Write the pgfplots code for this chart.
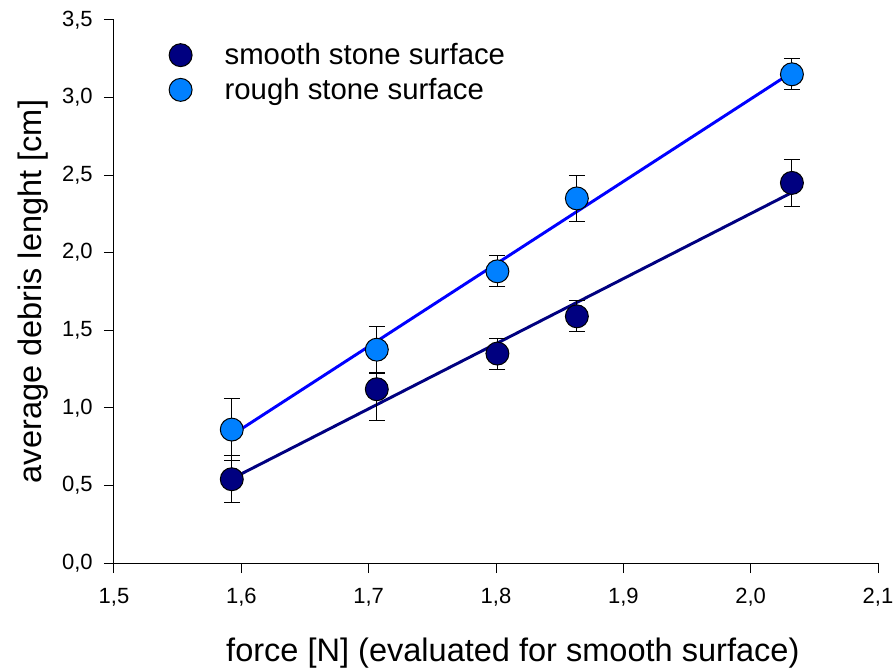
\documentclass[border=0pt]{standalone}
\usepackage{fontspec}
\setmainfont{Liberation Sans}
\usepackage{pgfplots}
\usepackage{pgfplotstable}
\pgfplotsset{compat=1.18}
\usetikzlibrary{calc}

\definecolor{navy}{RGB}{0,0,128}
\definecolor{skyblue}{RGB}{0,128,255}
\definecolor{fitblue}{RGB}{0,0,255}

% force [N], mean debris length [cm], upper and lower error
\pgfplotstableread{
x      y     ep    em
1.5925 0.54  0.15  0.15
1.7064 1.12  0.10  0.20
1.8011 1.35  0.10  0.10
1.8635 1.59  0.10  0.10
2.0324 2.45  0.15  0.15
}\smoothdata

\pgfplotstableread{
x      y     ep    em
1.5925 0.86  0.20  0.20
1.7064 1.375 0.15  0.15
1.8011 1.88  0.10  0.10
1.8635 2.35  0.15  0.15
2.0324 3.15  0.10  0.10
}\roughdata

\begin{document}
\begin{tikzpicture}
\begin{axis}[
  scale only axis, width=573pt, height=407.25pt,
  xmin=1.5, xmax=2.1, ymin=0, ymax=3.5,
  axis x line*=bottom, axis y line*=left,
  axis line style={-, line width=0.75pt},
  xtick={1.5,1.6,1.7,1.8,1.9,2.0,2.1},
  ytick={0,0.5,1,1.5,2,2.5,3,3.5},
  tick align=outside, major tick length=7.5pt,
  tick style={black, line width=0.75pt},
  /pgf/number format/.cd, use comma, fixed, fixed zerofill, precision=1,
  assume math mode=true, /pgfplots/.cd,
  xticklabel style={yshift=-8pt, font=\fontsize{16.5}{19}\selectfont},
  yticklabel style={xshift=-5pt, font=\fontsize{16.5}{19}\selectfont},
  xlabel={force [N] (evaluated for smooth surface)},
  ylabel={average debris lenght [cm]},
  every axis x label/.style={at={(axis description cs:0.522,-0.166)}, anchor=center,
    font=\fontsize{24.4}{28}\selectfont},
  every axis y label/.style={at={(axis description cs:-0.106,0.5)}, anchor=center,
    rotate=90, font=\fontsize{24.4}{28}\selectfont},
  legend style={at={(axis description cs:0.0666,0.967)}, anchor=north west,
    draw=none, fill=none, font=\fontsize{22}{26}\selectfont,
    row sep=4.6pt, cells={anchor=west}},
  legend image code/.code={\draw[#1] plot[only marks] coordinates {(0.3cm,0cm)};
    \path[draw=none, fill=none] (0cm,0cm) -- (1.39cm,0cm);},
  clip=false,
]
\coordinate (ll) at (rel axis cs:0,0);
\coordinate (ur) at (rel axis cs:1,1);

% fitted lines
\addplot[forget plot, navy, line width=2.2pt, no marks]
  table[x=x, y={create col/linear regression={y=y}}] {\smoothdata};
\addplot[forget plot, fitblue, line width=2.2pt, no marks]
  table[x=x, y={create col/linear regression={y=y}}] {\roughdata};

% error bars
\addplot[forget plot, only marks, mark=none,
  error bars/.cd, y dir=both, y explicit,
  error bar style={black, line width=0.75pt},
  error mark options={black, line width=0.75pt, mark size=6pt, rotate=90}]
  table[x=x, y=y, y error plus=ep, y error minus=em] {\smoothdata};
\addplot[forget plot, only marks, mark=none,
  error bars/.cd, y dir=both, y explicit,
  error bar style={black, line width=0.75pt},
  error mark options={black, line width=0.75pt, mark size=6pt, rotate=90}]
  table[x=x, y=y, y error plus=ep, y error minus=em] {\roughdata};

% means
\addplot[only marks, mark=*, mark size=8.6pt,
  mark options={fill=navy, draw=black, line width=0.75pt}]
  table[x=x, y=y] {\smoothdata};
\addlegendentry{smooth stone surface}
\addplot[only marks, mark=*, mark size=8.6pt,
  mark options={fill=skyblue, draw=black, line width=0.75pt}]
  table[x=x, y=y] {\roughdata};
\addlegendentry{rough stone surface}
\end{axis}
\pgfresetboundingbox
\useasboundingbox ($(ll)+(-85.5pt,-81pt)$) rectangle ($(ur)+(12.75pt,15pt)$);
\end{tikzpicture}
\end{document}
